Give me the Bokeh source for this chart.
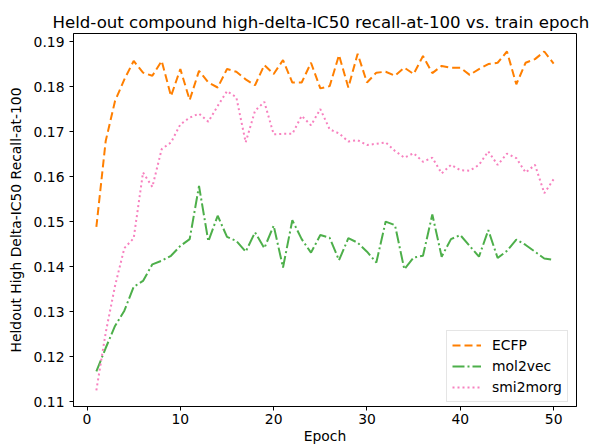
from bokeh.plotting import figure
from bokeh.models import Range1d, FixedTicker, Legend, LegendItem
from bokeh.embed import file_html
from bokeh.resources import INLINE

epochs = list(range(1, 51))

ecfp = [0.1488, 0.1679, 0.1768, 0.1816, 0.1857, 0.1831, 0.1824, 0.1857, 0.1779, 0.1839,
        0.1770, 0.1835, 0.1809, 0.1798, 0.1839, 0.1833, 0.1816, 0.1803, 0.1848, 0.1828,
        0.1859, 0.1809, 0.1809, 0.1853, 0.1796, 0.1801, 0.1870, 0.1798, 0.1873, 0.1809,
        0.1831, 0.1833, 0.1824, 0.1842, 0.1828, 0.1868, 0.1830, 0.1846, 0.1842, 0.1842,
        0.1826, 0.1839, 0.1850, 0.1853, 0.1878, 0.1805, 0.1853, 0.1861, 0.1878, 0.1851]

mol2vec = [0.1167, 0.1219, 0.1268, 0.1302, 0.1355, 0.1368, 0.1405, 0.1413, 0.1424, 0.1446,
           0.1461, 0.1579, 0.1456, 0.1513, 0.1466, 0.1457, 0.1433, 0.1476, 0.1441, 0.1491,
           0.1398, 0.1503, 0.1461, 0.1431, 0.1470, 0.1464, 0.1414, 0.1463, 0.1453, 0.1433,
           0.1409, 0.1500, 0.1492, 0.1394, 0.1420, 0.1424, 0.1516, 0.1422, 0.1461, 0.1470,
           0.1446, 0.1422, 0.1481, 0.1419, 0.1435, 0.1460, 0.1448, 0.1433, 0.1418, 0.1415]

smi2morg = [0.1125, 0.1253, 0.1357, 0.1441, 0.1463, 0.1609, 0.1577, 0.1661, 0.1676, 0.1716,
            0.1731, 0.1740, 0.1722, 0.1757, 0.1790, 0.1776, 0.1676, 0.1746, 0.1766, 0.1694,
            0.1695, 0.1695, 0.1735, 0.1714, 0.1750, 0.1705, 0.1696, 0.1678, 0.1681, 0.1670,
            0.1673, 0.1676, 0.1657, 0.1642, 0.1652, 0.1633, 0.1642, 0.1607, 0.1626, 0.1614,
            0.1613, 0.1626, 0.1656, 0.1626, 0.1651, 0.1641, 0.1609, 0.1626, 0.1563, 0.1594]

x_ticks = [0, 10, 20, 30, 40, 50]
y_ticks = [0.11, 0.12, 0.13, 0.14, 0.15, 0.16, 0.17, 0.18, 0.19]

title_text = "Held-out compound high-delta-IC50 recall-at-100 vs. train epoch"
x_label = "Epoch"
y_label = "Heldout High Delta-IC50 Recall-at-100"

FONT = "DejaVu Sans"

p = figure(width=590, height=446, output_backend="svg", toolbar_location=None,
           x_range=Range1d(-1.45, 52.45), y_range=Range1d(0.1089, 0.1918),
           min_border_left=73, min_border_right=14, min_border_top=33, min_border_bottom=40)

p.title.text = title_text
p.title.text_font = FONT
p.title.text_font_size = "16.6px"
p.title.text_font_style = "normal"
p.title.text_color = "black"
p.title.align = "left"
p.title.offset = -21
p.title.standoff = 4

p.xgrid.visible = False
p.ygrid.visible = False
p.outline_line_color = "black"
p.outline_line_width = 1
p.outline_line_alpha = 1

for ax in (p.xaxis[0], p.yaxis[0]):
    ax.axis_line_color = "black"
    ax.major_tick_line_color = "black"
    ax.minor_tick_line_color = None
    ax.major_tick_in = 0
    ax.major_tick_out = 4
    ax.major_label_text_font = FONT
    ax.major_label_text_font_size = "13.9px"
    ax.major_label_text_color = "black"
    ax.axis_label_text_font = FONT
    ax.axis_label_text_font_size = "13.9px"
    ax.axis_label_text_font_style = "normal"
    ax.axis_label_text_color = "black"

p.xaxis[0].ticker = FixedTicker(ticks=x_ticks)
p.yaxis[0].ticker = FixedTicker(ticks=y_ticks)
p.xaxis[0].axis_label = x_label
p.yaxis[0].axis_label = y_label
p.xaxis[0].major_label_standoff = 3
p.xaxis[0].axis_label_standoff = 1
p.yaxis[0].major_label_standoff = 5
p.yaxis[0].axis_label_standoff = 7

r1 = p.line(epochs, ecfp, line_color="#ff7f00", line_width=2, line_dash="8 4")
r2 = p.line(epochs, mol2vec, line_color="#4daf4a", line_width=2, line_dash="12 3 2 3")
r3 = p.line(epochs, smi2morg, line_color="#f781bf", line_width=2, line_dash="2 3")

legend = Legend(items=[LegendItem(label="ECFP", renderers=[r1]),
                       LegendItem(label="mol2vec", renderers=[r2]),
                       LegendItem(label="smi2morg", renderers=[r3])],
                location=(373, 4))
legend.label_text_font = FONT
legend.label_text_font_size = "13.9px"
legend.label_text_color = "black"
legend.glyph_width = 29
legend.glyph_height = 18
legend.label_height = 18
legend.spacing = 3
legend.padding = 5
legend.margin = 0
legend.border_line_color = "#cccccc"
legend.border_line_width = 1
legend.background_fill_alpha = 0.8
legend.label_standoff = 11
p.add_layout(legend)

open("out.html", "w").write(file_html(p, INLINE))
